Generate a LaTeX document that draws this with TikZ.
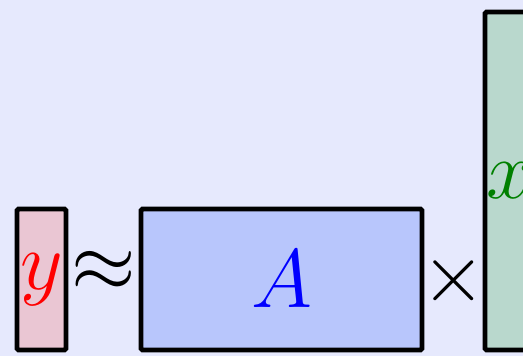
\documentclass[tikz,border=0pt]{standalone}
\usepackage{xcolor}
\usepackage{tikz}
\usetikzlibrary{calc,positioning}
\definecolor{PageTint}{HTML}{E6E9FD}
\definecolor{OutRose}{HTML}{EAC6D3}
\definecolor{MatBlue}{HTML}{B8C6FC}
\definecolor{VecGreen}{HTML}{B9D8CD}
\definecolor{SymGreen}{HTML}{008000}

\tikzset{
  block/.style={draw=black,line width=1.2pt,rounded corners=0.4pt,inner sep=0pt,outer sep=0pt,
    font=\huge},
  opsym/.style={inner sep=0pt,font=\huge}
}

\begin{document}
\begin{tikzpicture}[x=0.25pt,y=0.25pt]
  \fill[PageTint] (0,0) rectangle (523,356);
  \useasboundingbox (0,0) rectangle (523,356);
  % y ~ A x
  \node[block,fill=OutRose,minimum width=12.25pt,minimum height=35.25pt,text=red] (yvec) at (41.5,76.5) {$y$};
  \node[block,fill=MatBlue,minimum width=70.25pt,minimum height=35.25pt,text=blue] (amat) at (281.5,76.5) {$A$};
  \node[block,fill=VecGreen,minimum width=12.25pt,minimum height=84.5pt,text=SymGreen] (xvec) at (509.5,175) {$x$};
  \node[opsym] (approx) at ($(yvec.east)!0.5!(amat.west)+(0,8)$) {$\approx$};
  \node[opsym] (times) at ($(amat.east)!0.5!(amat.east -| xvec.west)+(0,-1)$) {$\times$};
\end{tikzpicture}
\end{document}
